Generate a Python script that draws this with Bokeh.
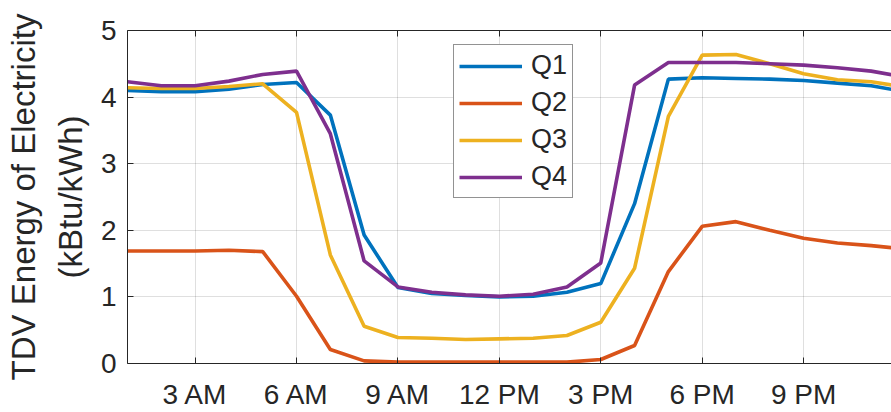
from bokeh.plotting import figure
from bokeh.models import LinearAxis, FixedTicker, Range1d, Legend, LegendItem
from bokeh.embed import file_html
from bokeh.resources import INLINE

hours = list(range(1, 25))
q1 = [4.10, 4.08, 4.08, 4.12, 4.19, 4.22, 3.73, 1.93, 1.14, 1.05, 1.02, 1.00,
      1.01, 1.07, 1.20, 2.40, 4.27, 4.29, 4.28, 4.27, 4.25, 4.21, 4.17, 4.08]
q2 = [1.69, 1.69, 1.69, 1.70, 1.68, 1.01, 0.21, 0.04, 0.02, 0.02, 0.02, 0.02,
      0.02, 0.02, 0.06, 0.27, 1.38, 2.06, 2.13, 2.00, 1.88, 1.81, 1.77, 1.72]
q3 = [4.14, 4.13, 4.13, 4.16, 4.20, 3.77, 1.63, 0.56, 0.39, 0.38, 0.36, 0.37,
      0.38, 0.42, 0.62, 1.43, 3.71, 4.63, 4.64, 4.50, 4.35, 4.26, 4.23, 4.15]
q4 = [4.23, 4.17, 4.17, 4.24, 4.34, 4.39, 3.45, 1.54, 1.15, 1.07, 1.03, 1.01,
      1.04, 1.15, 1.51, 4.18, 4.52, 4.52, 4.52, 4.50, 4.48, 4.44, 4.39, 4.30]

series_names = ["Q1", "Q2", "Q3", "Q4"]
series_colors = ["#0072BD", "#D95319", "#EDB120", "#7E2F8E"]

x_ticks = [3, 6, 9, 12, 15, 18, 21]
x_tick_labels = ["3 AM", "6 AM", "9 AM", "12 PM", "3 PM", "6 PM", "9 PM"]
y_ticks = [0, 1, 2, 3, 4, 5]

FONT = "Liberation Sans"
TXT = "#262626"

p = figure(width=891, height=412, output_backend="svg", toolbar_location=None,
           x_range=Range1d(1, 23.6), y_range=Range1d(0, 5),
           min_border_left=127, min_border_right=0, min_border_top=30,
           min_border_bottom=10)
p.outline_line_color = None
p.background_fill_color = "white"
p.border_fill_color = "white"

renderers = []
for data, col in zip([q1, q2, q3, q4], series_colors):
    r = p.line(hours, data, line_color=col, line_width=3.6)
    renderers.append(r)

xa = p.xaxis[0]
xa.ticker = FixedTicker(ticks=x_ticks)
xa.major_label_overrides = {t: l for t, l in zip(x_ticks, x_tick_labels)}
ya = p.yaxis[0]
ya.ticker = FixedTicker(ticks=y_ticks)
ya.axis_label = "(kBtu/kWh)"

for ax in [xa, ya]:
    ax.minor_tick_line_color = None
    ax.major_tick_in = 6
    ax.major_tick_out = 0
    ax.axis_line_color = TXT
    ax.major_tick_line_color = TXT
    ax.major_label_text_font = FONT
    ax.major_label_text_font_size = "28px"
    ax.major_label_text_color = TXT
    ax.axis_label_text_font = FONT
    ax.axis_label_text_font_size = "33px"
    ax.axis_label_text_font_style = "normal"
    ax.axis_label_text_color = TXT

xa.major_label_standoff = 15
ya.major_label_standoff = 11
ya.axis_label_standoff = 9

outer = LinearAxis(ticker=FixedTicker(ticks=[]), axis_label="TDV Energy of Electricity",
                   axis_line_color=None, major_tick_line_color=None,
                   minor_tick_line_color=None, major_label_text_font_size="0px",
                   major_label_standoff=0, axis_label_standoff=7,
                   axis_label_text_font=FONT, axis_label_text_font_size="33px",
                   axis_label_text_font_style="normal", axis_label_text_color=TXT)
p.add_layout(outer, "left")

top = LinearAxis(ticker=FixedTicker(ticks=x_ticks), axis_line_color=TXT,
                 major_tick_line_color=TXT, major_tick_in=6, major_tick_out=0,
                 minor_tick_line_color=None, major_label_text_font_size="0px",
                 major_label_standoff=0)
p.add_layout(top, "above")

p.xgrid.ticker = FixedTicker(ticks=x_ticks)
p.ygrid.ticker = FixedTicker(ticks=y_ticks)
for g in [p.xgrid[0], p.ygrid[0]]:
    g.grid_line_color = TXT
    g.grid_line_alpha = 0.15

legend = Legend(items=[LegendItem(label=n, renderers=[r]) for n, r in zip(series_names, renderers)],
                location=(326, 165), glyph_width=63, glyph_height=30, label_height=30,
                label_standoff=9, spacing=6, padding=5, margin=0,
                label_text_font=FONT, label_text_font_size="27px", label_text_color=TXT,
                border_line_color=TXT, border_line_width=1, background_fill_alpha=1)
p.add_layout(legend)

open("out.html", "w").write(file_html(p, INLINE))
